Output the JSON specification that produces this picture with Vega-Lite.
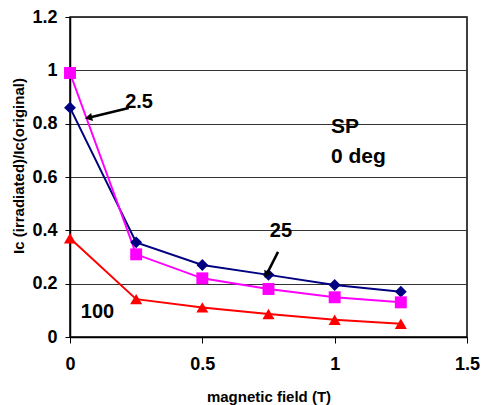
{
  "$schema": "https://vega.github.io/schema/vega-lite/v6.json",
  "autosize": "none",
  "width": 397,
  "height": 320,
  "padding": {"left": 70, "top": 17, "right": 15, "bottom": 68},
  "background": "white",
  "config": {
    "font": "Liberation Sans",
    "view": {"stroke": "black", "strokeWidth": 1.5},
    "axis": {"labelFont": "Liberation Sans", "titleFont": "Liberation Sans"}
  },
  "datasets": {
    "series": [
      {"field": 0, "ratio": 0.86, "dose": "2.5"},
      {"field": 0.25, "ratio": 0.355, "dose": "2.5"},
      {"field": 0.5, "ratio": 0.27, "dose": "2.5"},
      {"field": 0.75, "ratio": 0.233, "dose": "2.5"},
      {"field": 1.0, "ratio": 0.195, "dose": "2.5"},
      {"field": 1.25, "ratio": 0.17, "dose": "2.5"},
      {"field": 0, "ratio": 0.99, "dose": "25"},
      {"field": 0.25, "ratio": 0.31, "dose": "25"},
      {"field": 0.5, "ratio": 0.22, "dose": "25"},
      {"field": 0.75, "ratio": 0.18, "dose": "25"},
      {"field": 1.0, "ratio": 0.149, "dose": "25"},
      {"field": 1.25, "ratio": 0.13, "dose": "25"},
      {"field": 0, "ratio": 0.37, "dose": "100"},
      {"field": 0.25, "ratio": 0.142, "dose": "100"},
      {"field": 0.5, "ratio": 0.111, "dose": "100"},
      {"field": 0.75, "ratio": 0.086, "dose": "100"},
      {"field": 1.0, "ratio": 0.065, "dose": "100"},
      {"field": 1.25, "ratio": 0.05, "dose": "100"}
    ],
    "labels": [
      {"x": 0.261, "y": 0.883, "text": "2.5"},
      {"x": 0.797, "y": 0.399, "text": "25"},
      {"x": 0.104, "y": 0.094, "text": "100"}
    ],
    "sp": [
      {"x": 0.986, "y": 0.7875, "text": "SP"},
      {"x": 0.986, "y": 0.675, "text": "0 deg"}
    ],
    "arrows": [
      {"x": 0.222, "y": 0.859, "x2": 0.07, "y2": 0.822, "name": "a"},
      {"x": 0.786, "y": 0.319, "x2": 0.742, "y2": 0.233, "name": "b"}
    ]
  },
  "layer": [
    {
      "data": {"name": "series"},
      "mark": {"type": "line", "strokeWidth": 2},
      "encoding": {
        "x": {
          "field": "field", "type": "quantitative",
          "scale": {"domain": [0, 1.5], "nice": false},
          "axis": {
            "values": [0, 0.5, 1, 1.5], "grid": false, "format": "~g",
            "title": "magnetic field (T)",
            "titleFontSize": 15, "titleFontWeight": "bold", "titleY": 59, "titleBaseline": "middle",
            "labelFontSize": 18, "labelFontWeight": "bold", "labelPadding": 12,
            "labelColor": "black", "titleColor": "black",
            "domainColor": "black", "tickColor": "black", "tickSize": 6, "domainWidth": 1.5,
            "labelFlush": false
          }
        },
        "y": {
          "field": "ratio", "type": "quantitative",
          "scale": {"domain": [0, 1.2], "nice": false},
          "axis": {
            "values": [0, 0.2, 0.4, 0.6, 0.8, 1, 1.2], "format": "~g",
            "grid": true, "gridColor": "#333333", "gridWidth": 1,
            "title": "Ic (irradiated)/Ic(original)",
            "titleFontSize": 15, "titleFontWeight": "bold",
            "titleX": -52, "titleY": 148.5, "titleBaseline": "middle", "titleAlign": "center", "titleAngle": -90,
            "labelFontSize": 18, "labelFontWeight": "bold", "labelPadding": 8,
            "labelColor": "black", "titleColor": "black",
            "domainColor": "black", "tickColor": "black", "tickSize": 5, "domainWidth": 1.5
          }
        },
        "color": {
          "field": "dose", "type": "nominal",
          "scale": {"domain": ["2.5", "25", "100"], "range": ["#000080", "#FF00FF", "#FF0000"]},
          "legend": null
        }
      }
    },
    {
      "data": {"name": "series"},
      "mark": {"type": "point", "filled": true, "opacity": 1},
      "encoding": {
        "x": {"field": "field", "type": "quantitative"},
        "y": {"field": "ratio", "type": "quantitative"},
        "color": {"field": "dose", "type": "nominal", "legend": null},
        "shape": {
          "field": "dose", "type": "nominal",
          "scale": {"domain": ["2.5", "25", "100"], "range": ["diamond", "square", "triangle-up"]},
          "legend": null
        },
        "size": {
          "field": "dose", "type": "nominal",
          "scale": {"domain": ["2.5", "25", "100"], "range": [140, 145, 130]},
          "legend": null
        }
      }
    },
    {
      "data": {"name": "arrows"},
      "mark": {"type": "rule", "strokeWidth": 2.5, "color": "black"},
      "encoding": {
        "x": {"field": "x", "type": "quantitative"},
        "y": {"field": "y", "type": "quantitative"},
        "x2": {"field": "x2"},
        "y2": {"field": "y2"}
      }
    },
    {
      "data": {"name": "arrows"},
      "transform": [{"filter": "datum.name == 'a'"}],
      "mark": {"type": "point", "shape": "triangle-up", "filled": true, "color": "black", "opacity": 1, "size": 70, "angle": 257},
      "encoding": {
        "x": {"field": "x2", "type": "quantitative"},
        "y": {"field": "y2", "type": "quantitative"}
      }
    },
    {
      "data": {"name": "arrows"},
      "transform": [{"filter": "datum.name == 'b'"}],
      "mark": {"type": "point", "shape": "triangle-up", "filled": true, "color": "black", "opacity": 1, "size": 70, "angle": 207},
      "encoding": {
        "x": {"field": "x2", "type": "quantitative"},
        "y": {"field": "y2", "type": "quantitative"}
      }
    },
    {
      "data": {"name": "labels"},
      "mark": {"type": "text", "fontSize": 20, "fontWeight": "bold", "color": "black", "align": "center", "baseline": "middle"},
      "encoding": {
        "x": {"field": "x", "type": "quantitative"},
        "y": {"field": "y", "type": "quantitative"},
        "text": {"field": "text"}
      }
    },
    {
      "data": {"name": "sp"},
      "mark": {"type": "text", "fontSize": 21, "fontWeight": "bold", "color": "black", "align": "left", "baseline": "middle"},
      "encoding": {
        "x": {"field": "x", "type": "quantitative"},
        "y": {"field": "y", "type": "quantitative"},
        "text": {"field": "text"}
      }
    }
  ]
}
